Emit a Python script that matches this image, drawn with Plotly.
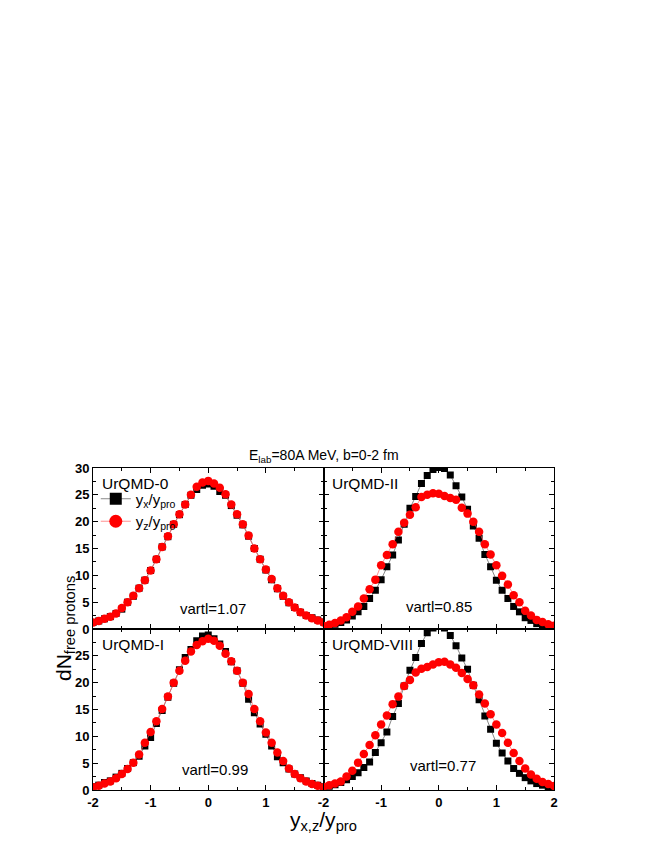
import plotly.graph_objects as go

# rapidity bins (y/y_pro)
x_vals = [-2.0, -1.9, -1.8, -1.7, -1.6, -1.5, -1.4, -1.3, -1.2, -1.1, -1.0,
          -0.9, -0.8, -0.7, -0.6, -0.5, -0.4, -0.3, -0.2, -0.1, 0.0,
          0.1, 0.2, 0.3, 0.4, 0.5, 0.6, 0.7, 0.8, 0.9, 1.0,
          1.1, 1.2, 1.3, 1.4, 1.5, 1.6, 1.7, 1.8, 1.9, 2.0]

# UrQMD-0
u0_x = [1.2, 1.5, 1.9, 2.3, 2.9, 3.7, 5.0, 6.1, 7.6, 9.1, 10.9,
        13.0, 15.3, 17.2, 19.5, 21.3, 23.2, 24.9, 26.0, 26.8, 27.0,
        26.6, 25.6, 24.9, 23.0, 21.2, 19.4, 17.3, 15.0, 13.0, 11.0,
        9.2, 7.5, 6.1, 4.9, 4.0, 3.1, 2.5, 2.1, 1.7, 1.3]
u0_z = [1.2, 1.5, 1.9, 2.3, 2.9, 3.9, 5.0, 6.2, 7.6, 9.1, 10.9,
        13.0, 15.3, 17.3, 19.5, 21.4, 23.2, 25.0, 26.5, 27.3, 27.6,
        27.1, 26.3, 25.1, 23.2, 21.4, 19.5, 17.4, 15.0, 13.0, 11.1,
        9.3, 7.6, 6.2, 5.0, 4.0, 3.1, 2.5, 2.0, 1.6, 1.2]

# UrQMD-II
u2_x = [0.5, 0.6, 0.9, 1.2, 1.7, 2.4, 3.2, 4.2, 5.7, 7.2, 9.2,
        11.6, 13.8, 16.6, 19.5, 22.5, 24.7, 27.1, 28.6, 29.7, 30.1,
        29.9, 28.7, 26.7, 24.6, 22.3, 19.2, 16.9, 13.9, 11.6, 9.1,
        7.2, 5.7, 4.2, 3.2, 2.1, 1.6, 1.0, 0.8, 0.6, 0.4]
u2_z = [0.56, 0.8, 1.1, 1.6, 2.2, 3.2, 4.2, 5.7, 7.4, 9.2, 11.9,
        13.8, 15.8, 18.1, 19.8, 21.3, 22.7, 24.6, 25.0, 25.3, 25.2,
        24.8, 24.4, 24.1, 22.6, 21.5, 20.0, 18.1, 15.8, 13.9, 11.9,
        9.9, 8.3, 6.3, 5.0, 3.4, 2.5, 1.7, 1.3, 0.9, 0.6]

# UrQMD-I
u1_x = [0.6, 0.9, 1.4, 1.7, 2.4, 3.1, 4.0, 5.1, 6.3, 8.2, 9.8,
        12.4, 14.8, 17.3, 19.9, 22.4, 24.7, 26.2, 27.8, 28.7, 28.9,
        28.2, 27.2, 25.8, 23.9, 22.2, 19.9, 16.9, 14.4, 12.3, 10.4,
        8.2, 6.2, 5.1, 3.9, 3.0, 2.3, 1.7, 1.2, 0.9, 0.6]
u1_z = [0.5, 0.8, 1.2, 1.6, 2.2, 3.0, 3.9, 5.1, 6.6, 8.8, 10.8,
        12.8, 15.1, 17.4, 20.0, 22.2, 24.1, 25.8, 27.0, 27.7, 28.2,
        27.8, 26.9, 25.4, 24.0, 22.2, 20.0, 17.9, 15.1, 12.8, 10.7,
        8.8, 7.0, 5.4, 4.0, 3.0, 2.2, 1.6, 1.1, 0.8, 0.5]

# UrQMD-VIII
u8_x = [0.5, 0.7, 1.0, 1.4, 1.9, 2.5, 3.2, 4.2, 5.2, 7.0, 8.8,
        10.8, 13.7, 16.1, 19.4, 22.3, 24.7, 27.3, 29.3, 30.2, 30.5,
        30.2, 28.8, 26.9, 24.6, 22.5, 19.5, 16.8, 13.8, 11.3, 8.7,
        6.9, 5.4, 4.0, 3.1, 2.3, 1.7, 1.2, 0.9, 0.6, 0.4]
u8_z = [0.56, 0.87, 1.2, 1.6, 2.5, 3.6, 5.1, 6.7, 8.4, 10.2, 12.2,
        13.9, 16.0, 17.4, 19.4, 20.5, 21.9, 22.6, 22.9, 23.4, 23.8,
        23.9, 23.4, 22.8, 21.8, 20.7, 19.5, 17.8, 16.1, 14.1, 12.2,
        10.6, 8.8, 6.9, 5.4, 4.0, 2.9, 2.1, 1.5, 1.1, 0.75]

model_names = ["UrQMD-0", "UrQMD-II", "UrQMD-I", "UrQMD-VIII"]
vartl_labels = ["vartl=1.07", "vartl=0.85", "vartl=0.99", "vartl=0.77"]

x_ticks_full = [-2, -1, 0, 1, 2]
x_ticks_left = [-2, -1, 0, 1]
y_ticks_full = [0, 5, 10, 15, 20, 25, 30]
y_ticks_low = [0, 5, 10, 15, 20, 25]

FONT = "Arial, Liberation Sans, sans-serif"
BLACK_LINE = dict(color="#555555", width=0.7)
RED_LINE = dict(color="#ff6060", width=0.7)

panels = [
    ("x", "y", u0_x, u0_z),
    ("x2", "y2", u2_x, u2_z),
    ("x3", "y3", u1_x, u1_z),
    ("x4", "y4", u8_x, u8_z),
]

fig = go.Figure()
for xa, ya, bx, rz in panels:
    fig.add_trace(go.Scatter(
        x=x_vals, y=bx, xaxis=xa, yaxis=ya, mode="lines+markers", showlegend=False,
        line=BLACK_LINE, marker=dict(symbol="square", size=7, color="black"),
    ))
    fig.add_trace(go.Scatter(
        x=x_vals, y=rz, xaxis=xa, yaxis=ya, mode="lines+markers", showlegend=False,
        line=RED_LINE, marker=dict(symbol="circle", size=8.5, color="red"),
    ))

# legend entries (bigger symbols as in the original legend)
fig.add_trace(go.Scatter(x=[None], y=[None], mode="lines+markers",
                         name="y<sub>x</sub>/y<sub>pro</sub>", line=BLACK_LINE,
                         marker=dict(symbol="square", size=12, color="black")))
fig.add_trace(go.Scatter(x=[None], y=[None], mode="lines+markers",
                         name="y<sub>z</sub>/y<sub>pro</sub>", line=RED_LINE,
                         marker=dict(symbol="circle", size=13, color="red")))

axis_common = dict(
    showline=True, linecolor="black", linewidth=1, mirror="ticks",
    ticks="inside", ticklen=5, tickcolor="black", showgrid=False, zeroline=False,
    tickfont=dict(family=FONT, size=13, color="black", weight="bold"),
)

def xaxis(domain, anchor, tickvals, show):
    return dict(axis_common, range=[-2, 2], domain=domain, anchor=anchor,
                tickvals=tickvals, ticktext=[str(v) for v in tickvals],
                showticklabels=show,
                minor=dict(dtick=0.5, tick0=0, ticks="inside", ticklen=3, tickcolor="black"))

def yaxis(domain, anchor, tickvals, show):
    return dict(axis_common, range=[0, 30], domain=domain, anchor=anchor,
                tickvals=tickvals, ticktext=[str(v) for v in tickvals],
                showticklabels=show,
                minor=dict(dtick=2.5, tick0=0, ticks="inside", ticklen=3, tickcolor="black"))

fig.update_layout(
    width=664, height=860,
    margin=dict(l=85, r=118, t=460, b=78),
    paper_bgcolor="white", plot_bgcolor="white",
    font=dict(family=FONT, color="black"),
    xaxis=xaxis([0, 0.5], "y", x_ticks_full, False),
    yaxis=yaxis([0.5, 1], "x", y_ticks_full, True),
    xaxis2=xaxis([0.5, 1], "y2", x_ticks_full, False),
    yaxis2=yaxis([0.5, 1], "x2", y_ticks_full, False),
    xaxis3=xaxis([0, 0.5], "y3", x_ticks_left, True),
    yaxis3=yaxis([0, 0.5], "x3", y_ticks_low, True),
    xaxis4=xaxis([0.5, 1], "y4", x_ticks_full, True),
    yaxis4=yaxis([0, 0.5], "x4", y_ticks_full, False),
    showlegend=True,
    legend=dict(x=0.006, y=0.955, xanchor="left", yanchor="top",
                bgcolor="rgba(0,0,0,0)", font=dict(family=FONT, size=15),
                tracegroupgap=4, itemwidth=30),
)

# panel labels
label_refs = [("x domain", "y domain"), ("x2 domain", "y2 domain"),
              ("x3 domain", "y3 domain"), ("x4 domain", "y4 domain")]
vartl_pos = [(0.52, 0.13), (0.50, 0.14), (0.53, 0.13), (0.52, 0.15)]
for (xr, yr), name, vt, (vx, vy) in zip(label_refs, model_names, vartl_labels, vartl_pos):
    fig.add_annotation(xref=xr, yref=yr, x=0.03, y=0.905, text=name, showarrow=False,
                       xanchor="left", yanchor="middle",
                       font=dict(family=FONT, size=15.5, color="black"))
    fig.add_annotation(xref=xr, yref=yr, x=vx, y=vy, text=vt, showarrow=False,
                       xanchor="center", yanchor="middle",
                       font=dict(family=FONT, size=15, color="black"))

fig.add_annotation(xref="paper", yref="paper", x=0.5, y=1.0, yshift=1,
                   text="E<sub>lab</sub>=80A MeV, b=0-2 fm", showarrow=False,
                   xanchor="center", yanchor="bottom",
                   font=dict(family=FONT, size=14, color="black"))
fig.add_annotation(xref="paper", yref="paper", x=0.5, y=0, yshift=-16,
                   text="y<sub>x,z</sub>/y<sub>pro</sub>", showarrow=False,
                   xanchor="center", yanchor="top",
                   font=dict(family=FONT, size=21, color="black"))
fig.add_annotation(xref="paper", yref="paper", x=0, xshift=-13, y=0.5,
                   text="dN<sub>free protons</sub>", showarrow=False, textangle=-90,
                   xanchor="right", yanchor="middle",
                   font=dict(family=FONT, size=21, color="black"))

fig.write_html("out.html")
